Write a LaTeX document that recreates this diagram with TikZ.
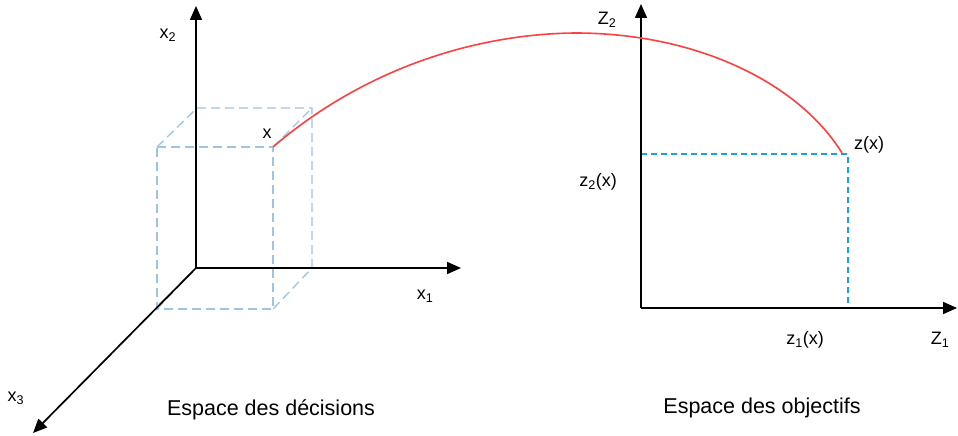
\documentclass[tikz,border=0pt]{standalone}
\usepackage{fontspec}
\setmainfont{Liberation Sans}
\usetikzlibrary{arrows.meta}
\definecolor{cubeblue}{HTML}{9DC3E6}
\definecolor{projblue}{HTML}{1BA1E2}
\definecolor{curvered}{HTML}{FF4040}
\tikzset{
  axis/.style={line width=1.7pt, -{Triangle[length=14pt,width=12pt]}},
  cube/.style={cubeblue, line width=1.3pt, dash pattern=on 9pt off 5pt},
  proj/.style={projblue, line width=1.3pt, dash pattern=on 6pt off 4pt},
  lbl/.style={inner sep=0pt, font=\fontsize{18}{21}\selectfont},
  title/.style={inner sep=0pt, font=\fontsize{21.5}{25}\selectfont}
}
\begin{document}
\begin{tikzpicture}[x=1pt, y=-1pt]
        \useasboundingbox (0,0) rectangle (958,436);
        % decision space
        \coordinate (O) at (196,268);
        \coordinate (X1) at (461,268);
        \coordinate (X2) at (196,6);
        \coordinate (X3) at (33,433);
        \coordinate (A) at (157,147);
        \coordinate (B) at (273,147);
        \coordinate (C) at (273,309);
        \coordinate (D) at (157,309);
        \coordinate (E) at (197,108);
        \coordinate (F) at (312,108);
        \coordinate (G) at (312,268);
        \draw[cube] (A) -- (B) -- (C) -- (D) -- cycle;
        \draw[cube] (A) -- (E) -- (F) -- (G) -- (C);
        \draw[cube] (B) -- (F);
        \draw[cube] (D) -- (O);
        \draw[axis] (O) -- (X1);
        \draw[axis] (O) -- (X2);
        \draw[axis] (O) -- (X3);
        \node[lbl] (lx1) at (425,296) {x\textsubscript{1}};
        \node[lbl] (lx2) at (168,35) {x\textsubscript{2}};
        \node[lbl] (lx3) at (16,398) {x\textsubscript{3}};
        \node[lbl] (lx) at (267,134) {x};
        \node[title] (dec) at (271,410) {Espace des décisions};
        % objective space
        \coordinate (P) at (641,308);
        \coordinate (Z1) at (957,308);
        \coordinate (Z2) at (641,4);
        \coordinate (Q) at (848,154);
        \coordinate (Qy) at (641,154);
        \coordinate (Qx) at (848,308);
        \coordinate (T) at (842,153);
        \draw[proj] (Qy) -- (Q) -- (Qx);
        \draw[axis] (P) -- (Z1);
        \draw[axis] (P) -- (Z2);
        \node[lbl] (lz1) at (940,340) {Z\textsubscript{1}};
        \node[lbl] (lz2) at (607,20) {Z\textsubscript{2}};
        \node[lbl] (lzx) at (869,145) {z(x)};
        \node[lbl] (lz2x) at (598,182) {z\textsubscript{2}(x)};
        \node[lbl] (lz1x) at (805,340) {z\textsubscript{1}(x)};
        \node[title] (obj) at (762,408) {Espace des objectifs};
        % mapping
        \draw[curvered, line width=1.6pt] (B) .. controls (360,72) and (470,34) .. (575,33)
          .. controls (700,33) and (800,85) .. (T);
    \end{tikzpicture}
\end{document}
